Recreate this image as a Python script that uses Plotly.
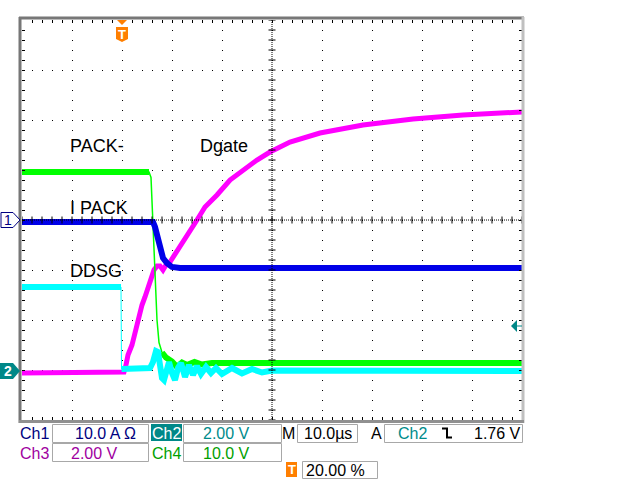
import plotly.graph_objects as go
import numpy as np

# ---- data: time in microseconds (10 us/div, trigger at t=0), level in screen divisions ----
green_t = [-20, 5.4, 5.8, 6.1, 6.4, 6.7, 7.0, 7.4, 8.0, 8.8, 10.0, 11.0, 12.0, 13.0, 14.5, 16.0, 18.0, 80]
green_v = [4.96, 4.96, 4.85, 4.2, 3.4, 2.6, 2.0, 1.55, 1.35, 1.25, 1.17, 1.06, 1.15, 1.1, 1.16, 1.11, 1.14, 1.14]

cyan_t = [-20, -0.2, -0.1, 5.6, 6.2, 6.8, 7.2, 7.6, 8.0, 8.4, 9.0, 9.4, 10.0, 10.6, 11.2,
          11.8, 12.6, 13.4, 14.2, 15.0, 15.8, 16.8, 17.8, 18.8, 20.0, 22.0, 24.0, 26.0, 28.0, 30.0, 80]
cyan_v = [2.66, 2.66, 1.02, 1.04, 1.16, 1.38, 1.36, 1.1, 0.84, 0.8, 1.04, 1.16, 0.94, 0.8, 1.04,
          1.14, 0.86, 1.1, 0.9, 1.08, 0.92, 1.06, 0.94, 1.04, 0.92, 1.04, 0.93, 1.02, 0.95, 0.99, 0.98]

mag_t = [-20, 0.0, 0.4, 0.8, 1.2, 2.0, 2.6, 3.2, 4.0, 4.6, 5.6, 6.4, 7.0, 7.6, 8.2, 8.8, 9.6,
         10.4, 11.2, 12.4, 13.6, 15.0, 16.6, 19.0, 21.6, 24.6, 27.0, 29.6, 33.6, 39.6, 48.2,
         58.2, 68.2, 80]
mag_v = [0.94, 0.94, 0.96, 1.1, 1.3, 1.5, 1.76, 2.0, 2.3, 2.46, 2.76, 3.0, 3.08, 3.08, 3.0, 3.1,
         3.16, 3.28, 3.4, 3.6, 3.8, 4.0, 4.26, 4.5, 4.8, 5.04, 5.2, 5.36, 5.56, 5.74, 5.9,
         6.02, 6.1, 6.16]

blue_t = [-20, 6.2, 6.6, 7.2, 7.6, 8.2, 9.0, 10.0, 11.6, 80]
blue_v = [3.96, 3.96, 3.86, 3.6, 3.4, 3.24, 3.14, 3.06, 3.04, 3.04]

GREEN, CYAN, MAG, BLUE = "#00ff00", "#00ffff", "#ff00ff", "#0000e8"

W, H = 640, 480
X0, X1, Y0, Y1 = 22, 522, 20, 420


def PX(x):
    return (x - X0) / (X1 - X0)


def PY(y):
    return (Y1 - y) / (Y1 - Y0)


fig = go.Figure()


def add_channel(t, v, color, thick_ranges, thick_w, thin_w=1.5):
    fig.add_trace(go.Scatter(x=t, y=v, mode="lines", line=dict(color=color, width=thin_w),
                             hoverinfo="skip", showlegend=False))
    for a, b in thick_ranges:
        fig.add_trace(go.Scatter(x=t[a:b], y=v[a:b], mode="lines",
                                 line=dict(color=color, width=thick_w),
                                 hoverinfo="skip", showlegend=False))


add_channel(mag_t, mag_v, MAG, [(0, len(mag_t))], 5)
add_channel(green_t, green_v, GREEN, [(0, 2), (8, len(green_t))], 6)
add_channel(cyan_t, cyan_v, CYAN, [(0, 2), (2, len(cyan_t))], 6, thin_w=1)
add_channel(blue_t, blue_v, BLUE, [(0, len(blue_t))], 6)

# centre-line tick marks
cx = np.arange(-20, 80.01, 2)
fig.add_trace(go.Scatter(x=cx, y=[4] * len(cx), mode="markers",
                         marker=dict(symbol="line-ns", size=5, line=dict(color="black", width=1)),
                         hoverinfo="skip", showlegend=False))
cy = np.arange(0, 8.01, 0.2)
fig.add_trace(go.Scatter(x=[30] * len(cy), y=cy, mode="markers",
                         marker=dict(symbol="line-ew", size=5, line=dict(color="black", width=1)),
                         hoverinfo="skip", showlegend=False))

shapes = []
ann = []


def line_px(x0, y0, x1, y1, color, width, dash=None):
    d = dict(type="line", xref="paper", yref="paper", x0=PX(x0), y0=PY(y0), x1=PX(x1), y1=PY(y1),
             line=dict(color=color, width=width))
    if dash:
        d["line"]["dash"] = dash
    shapes.append(d)


def rect_px(x0, y0, x1, y1, line_color=None, fill=None, width=1):
    shapes.append(dict(type="rect", xref="paper", yref="paper", x0=PX(x0), y0=PY(y0),
                       x1=PX(x1), y1=PY(y1),
                       line=dict(color=line_color or "rgba(0,0,0,0)", width=width if line_color else 0),
                       fillcolor=fill or "rgba(0,0,0,0)"))


def path_px(pts, fill=None, color=None, width=1, closed=True):
    p = "M" + " L".join(f"{PX(x):.5f},{PY(y):.5f}" for x, y in pts)
    if closed:
        p += " Z"
    shapes.append(dict(type="path", xref="paper", yref="paper", path=p,
                       fillcolor=fill or "rgba(0,0,0,0)",
                       line=dict(color=color or "rgba(0,0,0,0)", width=width if color else 0)))


def text_px(x, y, s, color="black", size=16, xanchor="center", bold=False):
    ann.append(dict(xref="paper", yref="paper", x=PX(x), y=PY(y), text=(f"<b>{s}</b>" if bold else s),
                    showarrow=False, xanchor=xanchor, yanchor="middle",
                    font=dict(family="Liberation Sans, Arial", size=size, color=color)))


# centre dotted lines
line_px(X0, 220, X1, 220, "black", 1, "1px,1px")
line_px(272, Y0, 272, Y1, "black", 1, "1px,1px")

# graticule border
line_px(20, 17, 20, 423, "#777777", 3)
line_px(19, 18, 524, 18, "#777777", 3)
line_px(523, 17, 523, 423, "#c0c0c0", 3)
line_px(19, 421.5, 524, 421.5, "#909090", 3)

# channel labels on traces
text_px(68, 146, "PACK-", size=18, xanchor="left")
text_px(198, 146, "Dgate", size=18, xanchor="left")
text_px(68, 208, "I PACK", size=18, xanchor="left")
text_px(68, 271, "DDSG", size=18, xanchor="left")

# channel markers
path_px([(1, 212.5), (13, 212.5), (20, 220), (13, 227.5), (1, 227.5)], fill="white", color="#000080", width=1)
text_px(7.5, 220, "1", color="#000080", size=14)
path_px([(0, 363), (13, 363), (20, 371), (13, 379), (0, 379)], fill="#008888")
text_px(7.5, 371, "2", color="white", size=14, bold=True)

# trigger position marker
ORANGE = "#ff7f00"
path_px([(117, 20), (127, 20), (122, 25)], fill=ORANGE)
path_px([(116, 27), (128, 27), (128, 39), (122, 42), (116, 39)], fill=ORANGE)
text_px(122, 34, "T", color="white", size=13, bold=True)

# trigger level arrow
path_px([(511, 326), (517, 320), (517, 332)], fill="#008888")
line_px(517, 326, 522, 326, "#008888", 1)

# status bar
BOX = "#a8a8a8"
NAVY, TEAL, PURP, DGRN = "#000080", "#008b8b", "#a000a0", "#00a000"
rect_px(52.5, 424.5, 148.5, 442.5, BOX)
rect_px(52.5, 443.5, 148.5, 461.5, BOX)
rect_px(151, 424, 182, 441, fill="#008888")
rect_px(183.5, 424.5, 281.5, 442.5, BOX)
rect_px(183.5, 443.5, 281.5, 461.5, BOX)
rect_px(297.5, 424.5, 357.5, 442.5, BOX)
rect_px(384.5, 424.5, 522.5, 442.5, BOX)
rect_px(302.5, 461.5, 377.5, 478.5, BOX)
rect_px(286, 462, 297, 477, fill=ORANGE)
text_px(291.5, 469.5, "T", color="white", size=13, bold=True)

text_px(34, 433, "Ch1", NAVY)
text_px(105, 433, "10.0 A Ω", NAVY)
text_px(166.5, 433, "Ch2", "white")
text_px(226, 433, "2.00 V", TEAL)
text_px(288, 433, "M", "black")
text_px(327.5, 433, "10.0µs", "black")
text_px(376, 433, "A", "black")
text_px(412, 433, "Ch2", TEAL)
path_px([(442, 428.5), (447, 428.5), (447, 437.5), (452, 437.5)], color="black", width=2, closed=False)
text_px(497.5, 433, "1.76 V", "black")
text_px(34, 453, "Ch3", PURP)
text_px(94, 453, "2.00 V", PURP)
text_px(166.5, 453, "Ch4", DGRN)
text_px(226, 453, "10.0 V", DGRN)
text_px(335, 470, "20.00 %", "black")

fig.update_layout(
    width=W, height=H,
    margin=dict(l=X0, r=W - X1, t=Y0, b=H - Y1, pad=0),
    paper_bgcolor="white", plot_bgcolor="white",
    showlegend=False, shapes=shapes, annotations=ann,
)
fig.update_xaxes(range=[-20, 80], dtick=10, tick0=0, showgrid=True, gridcolor="black", gridwidth=1,
                 griddash="1px,9px", ticks="inside", ticklen=3, tickcolor="black", mirror="ticks",
                 showticklabels=False, zeroline=False, showline=False,
                 minor=dict(dtick=2, ticks="inside", ticklen=3, tickcolor="black", showgrid=False))
fig.update_yaxes(range=[0, 8], dtick=1, tick0=0, showgrid=True, gridcolor="black", gridwidth=1,
                 griddash="1px,9px", ticks="inside", ticklen=3, tickcolor="black", mirror="ticks",
                 showticklabels=False, zeroline=False, showline=False,
                 minor=dict(dtick=0.2, ticks="inside", ticklen=3, tickcolor="black", showgrid=False))

fig.write_html("out.html",
               config={"displayModeBar": False, "staticPlot": True},
               post_script="document.body.style.margin='0';document.body.style.overflow='hidden';")
